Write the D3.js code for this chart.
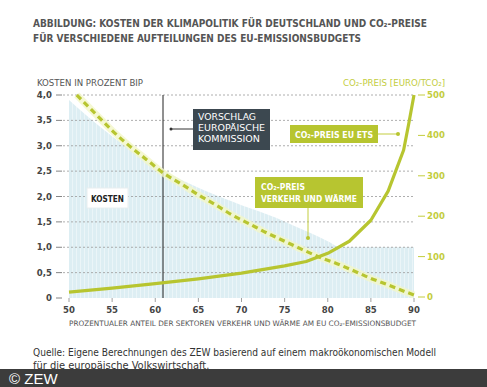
<!DOCTYPE html>
<html lang="de">
<head>
<meta charset="UTF-8">
<title>Kosten der Klimapolitik</title>
<script src="https://d3js.org/d3.v7.min.js"></script>
<style>
  body { margin: 0; background: #fff; }
  svg text { font-family: "Liberation Sans Narrow", "DejaVu Sans Condensed", "Liberation Sans", sans-serif; }
</style>
</head>
<body>
<svg id="chart" width="487" height="387"></svg>
<script>
// data
var xTicks = [50, 55, 60, 65, 70, 75, 80, 85, 90];
var leftTicks = [0, 0.5, 1, 1.5, 2, 2.5, 3, 3.5, 4];
var rightTicks = [0, 100, 200, 300, 400, 500];

// Kosten in Prozent BIP (shaded area)
var costX = [50, 52, 54, 56, 58, 60, 62, 64, 66, 68, 70, 72, 74, 76, 78, 80, 81.5, 84, 86, 88, 90];
var costY = [3.9, 3.6, 3.32, 3.06, 2.82, 2.6, 2.42, 2.25, 2.1, 1.96, 1.83, 1.71, 1.58, 1.43, 1.28, 1.12, 1.0, 1.0, 1.0, 1.0, 1.0];

// CO2-Preis Verkehr und Wärme (dashed)
var heatX = [50.9, 53, 55, 57, 59, 61, 63, 65, 67, 69, 71, 73, 75, 77, 79, 81, 83, 85, 87, 89, 90];
var heatY = [500, 455, 412, 374, 340, 306, 280, 253, 228, 202, 180, 158, 138, 118, 99, 83, 65, 46, 30, 13, 5];

// CO2-Preis EU ETS (solid)
var etsX = [50, 55, 60, 65, 70, 75, 77.5, 80, 82.5, 85, 87, 88.8, 89.4, 90];
var etsY = [12, 22, 33, 45, 59, 77, 88, 108, 138, 190, 262, 364, 430, 500];

var proposal = 60.9;

var svg = d3.select("#chart");
var green = "#b7c530";
var dark = "#454545";

var x = d3.scaleLinear().domain([50, 90]).range([69, 414]);
var yL = d3.scaleLinear().domain([0, 4]).range([298, 95]);
var yR = d3.scaleLinear().domain([0, 500]).range([297, 95]);

function label(px, py, size, txt, opts) {
  var t = svg.append("text").attr("x", px).attr("y", py).attr("font-size", size).text(txt);
  Object.keys(opts || {}).forEach(k => t.attr(k, opts[k]));
  return t;
}

// title
label(33, 27, 10.5, "ABBILDUNG: KOSTEN DER KLIMAPOLITIK FÜR DEUTSCHLAND UND CO₂-PREISE",
  {"font-weight": "bold", fill: "#555", textLength: 394, lengthAdjust: "spacingAndGlyphs"});
label(33, 42, 10.5, "FÜR VERSCHIEDENE AUFTEILUNGEN DES EU-EMISSIONSBUDGETS",
  {"font-weight": "bold", fill: "#555", textLength: 328, lengthAdjust: "spacingAndGlyphs"});

label(37, 86, 8.5, "KOSTEN IN PROZENT BIP",
  {fill: "#555", textLength: 106, lengthAdjust: "spacingAndGlyphs"});
label(343, 86, 8.5, "CO₂-PREIS [EURO/TCO₂]",
  {fill: "#c3cd3e", textLength: 102, lengthAdjust: "spacingAndGlyphs"});

// stripe pattern for the area
var pat = svg.append("defs").append("pattern").attr("id", "stripes")
   .attr("patternUnits", "userSpaceOnUse").attr("width", 4).attr("height", 4);
pat.append("rect").attr("width", 4).attr("height", 4).attr("fill", "#ddeef3");
pat.append("rect").attr("width", 1).attr("height", 4).attr("fill", "#ebf5f8");

var costData = costX.map((v, i) => [v, costY[i]]);
svg.append("path").datum(costData)
   .attr("d", d3.area().x(d => x(d[0])).y0(yL(0)).y1(d => yL(d[1])).curve(d3.curveMonotoneX))
   .attr("fill", "url(#stripes)");

// grid lines
svg.append("g").selectAll("line").data(leftTicks.filter(d => d > 0)).join("line")
   .attr("x1", 63).attr("x2", 415)
   .attr("y1", d => yL(d)).attr("y2", d => yL(d))
   .attr("stroke", "#999").attr("stroke-width", 0.8).attr("stroke-dasharray", "2,2");

// left axis
var gl = svg.append("g");
gl.selectAll("line").data(leftTicks).join("line")
   .attr("x1", 56).attr("x2", 62).attr("y1", d => yL(d)).attr("y2", d => yL(d))
   .attr("stroke", "#666").attr("stroke-width", 0.8);
gl.selectAll("text").data(leftTicks).join("text")
   .attr("x", 52).attr("y", d => yL(d) + 3).attr("text-anchor", "end")
   .attr("font-size", 9.5).attr("font-weight", "bold").attr("fill", dark)
   .text(d => d === 0 ? "0" : d3.format(".1f")(d).replace(".", ","));

// right axis
var gr = svg.append("g");
gr.selectAll("line").data(rightTicks).join("line")
   .attr("x1", 418).attr("x2", 425).attr("y1", d => yR(d)).attr("y2", d => yR(d))
   .attr("stroke", "#c3cd3e").attr("stroke-width", 1);
gr.selectAll("text").data(rightTicks).join("text")
   .attr("x", 427).attr("y", d => yR(d) + 3)
   .attr("font-size", 9.5).attr("font-weight", "bold").attr("fill", "#c3cd3e")
   .text(d => d);

// x axis
var gx = svg.append("g");
gx.selectAll("line").data(xTicks).join("line")
   .attr("x1", d => x(d)).attr("x2", d => x(d)).attr("y1", 298).attr("y2", 302)
   .attr("stroke", "#888").attr("stroke-width", 0.8);
gx.selectAll("text").data(xTicks).join("text")
   .attr("x", d => x(d)).attr("y", 313).attr("text-anchor", "middle")
   .attr("font-size", 9.5).attr("font-weight", "bold").attr("fill", dark)
   .text(d => d);
label(69, 326, 7.5, "PROZENTUALER ANTEIL DER SEKTOREN VERKEHR UND WÄRME AM EU CO₂-EMISSIONSBUDGET",
  {fill: "#555", textLength: 347, lengthAdjust: "spacingAndGlyphs"});

// proposal line
svg.append("line").attr("x1", x(proposal)).attr("x2", x(proposal))
   .attr("y1", yL(4)).attr("y2", yL(0)).attr("stroke", "#222").attr("stroke-width", 1);

// lines
var lineR = d3.line().x(d => x(d[0])).y(d => yR(d[1])).curve(d3.curveMonotoneX);
var heatData = heatX.map((v, i) => [v, heatY[i]]);
var etsData = etsX.map((v, i) => [v, etsY[i]]);

svg.append("path").datum(heatData).attr("d", lineR)
   .attr("fill", "none").attr("stroke", "#f3f6c8").attr("stroke-width", 7).attr("stroke-opacity", 0.8);
svg.append("path").datum(heatData).attr("d", lineR)
   .attr("fill", "none").attr("stroke", green).attr("stroke-width", 3.2).attr("stroke-dasharray", "6,4");
svg.append("path").datum(etsData).attr("d", d3.line().x(d => x(d[0])).y(d => yR(d[1])))
   .attr("fill", "none").attr("stroke", green).attr("stroke-width", 3.2).attr("stroke-linejoin", "round");

// annotations
// Vorschlag Europäische Kommission
svg.append("line").attr("x1", 171).attr("x2", 193).attr("y1", 129).attr("y2", 129)
   .attr("stroke", "#333").attr("stroke-width", 1);
svg.append("circle").attr("cx", 171).attr("cy", 129).attr("r", 1.5).attr("fill", "#333");
svg.append("rect").attr("x", 193).attr("y", 109).attr("width", 77).attr("height", 41).attr("fill", "#3c4850");
[["VORSCHLAG", 58], ["EUROPÄISCHE", 67], ["KOMMISSION", 62]].forEach(function(t, i) {
  label(198, 120 + i * 11, 9, t[0], {fill: "#fff", textLength: t[1], lengthAdjust: "spacingAndGlyphs"});
});

// Kosten label
svg.append("rect").attr("x", 87).attr("y", 188).attr("width", 41).attr("height", 20)
   .attr("fill", "#fff").attr("stroke", "#e8eef0").attr("stroke-width", 1);
label(91, 201.5, 9, "KOSTEN", {"font-weight": "bold", fill: "#222", textLength: 33, lengthAdjust: "spacingAndGlyphs"});

// CO2-Preis EU ETS
svg.append("line").attr("x1", 378).attr("x2", 398).attr("y1", 134).attr("y2", 134)
   .attr("stroke", "#c3cd3e").attr("stroke-width", 1);
svg.append("circle").attr("cx", 398).attr("cy", 134).attr("r", 2).attr("fill", green);
svg.append("rect").attr("x", 290).attr("y", 125).attr("width", 88).attr("height", 18).attr("fill", green);
label(295, 137.5, 9, "CO₂-PREIS EU ETS",
  {"font-weight": "bold", fill: "#fff", textLength: 78, lengthAdjust: "spacingAndGlyphs"});

// CO2-Preis Verkehr und Wärme
svg.append("line").attr("x1", 308).attr("x2", 308).attr("y1", 208).attr("y2", 238)
   .attr("stroke", "#c3cd3e").attr("stroke-width", 1);
svg.append("circle").attr("cx", 308).attr("cy", 238).attr("r", 2).attr("fill", green);
svg.append("rect").attr("x", 255).attr("y", 177).attr("width", 108).attr("height", 31).attr("fill", green);
label(261, 189.5, 9, "CO₂-PREIS",
  {"font-weight": "bold", fill: "#fff", textLength: 44, lengthAdjust: "spacingAndGlyphs"});
label(261, 201.5, 9, "VERKEHR UND WÄRME",
  {"font-weight": "bold", fill: "#fff", textLength: 96, lengthAdjust: "spacingAndGlyphs"});

// source
label(33, 356, 11, "Quelle: Eigene Berechnungen des ZEW basierend auf einem makroökonomischen Modell",
  {fill: "#333", textLength: 403, lengthAdjust: "spacingAndGlyphs"});
label(33, 369, 11, "für die europäische Volkswirtschaft.", {fill: "#333"});

// footer bar
svg.append("rect").attr("x", 0).attr("y", 369).attr("width", 487).attr("height", 18).attr("fill", "#3c3c3c");
svg.append("text").attr("x", 9).attr("y", 384).attr("font-size", 15)
   .style("font-family", "'Liberation Sans', Arial, sans-serif")
   .attr("fill", "#fff").text("© ZEW");
</script>
</body>
</html>
